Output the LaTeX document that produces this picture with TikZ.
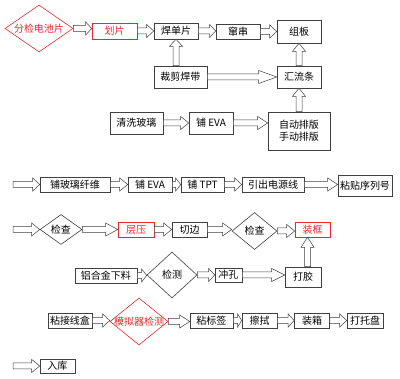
\documentclass[tikz,border=0pt]{standalone}
\usepackage{fontspec}
\setmainfont{Noto Sans CJK SC}
\usepackage{xcolor}
\definecolor{hongse}{HTML}{E8282B}
\definecolor{xian}{HTML}{404040}
\usetikzlibrary{calc,shapes.geometric}
\tikzstyle{kuang} = [rectangle, draw=xian, line width=0.6pt, inner sep=0pt, minimum height=15pt, align=center]
\tikzstyle{hongkuang} = [kuang, draw=hongse, text=hongse]
\tikzstyle{lingxing} = [diamond, draw=xian, line width=0.6pt, inner sep=0pt]
\tikzstyle{honglingxing} = [lingxing, draw=hongse]
\tikzstyle{jiantou} = [draw=xian, line width=0.5pt, fill=white, line join=miter]

% block arrows: horizontal (left to right) and vertical (bottom to top)
\newcommand{\harr}[3][6pt]{%
  \draw[jiantou] let \p1=(#2), \p2=(#3) in
    (\x1,\y1+3pt) -- (\x2-#1,\y1+3pt) -- (\x2-#1,\y1+6.5pt) -- (\x2,\y1)
    -- (\x2-#1,\y1-6.5pt) -- (\x2-#1,\y1-3pt) -- (\x1,\y1-3pt) -- cycle;}
\newcommand{\varr}[3][8pt]{%
  \draw[jiantou] let \p1=(#2), \p2=(#3) in
    (\x1-3pt,\y1) -- (\x1-3pt,\y2-#1) -- (\x1-6.5pt,\y2-#1) -- (\x1,\y2)
    -- (\x1+6.5pt,\y2-#1) -- (\x1+3pt,\y2-#1) -- (\x1+3pt,\y1) -- cycle;}

\begin{document}
\begin{tikzpicture}[x=1pt, y=-1pt]
\useasboundingbox (0,0) rectangle (400,379);

% first line
\node (fenjian) [honglingxing, minimum width=68pt, minimum height=47pt, label=center:{\color{hongse}分检电池片}] at (39,28.5) {};
\node (huapian) [hongkuang, minimum width=45pt, minimum height=16pt] at (114.5,31) {划片};
\node (handan) [kuang, minimum width=44pt, minimum height=16pt] at (176,31) {焊单片};
\node (chuan) [kuang, minimum width=44pt] at (238,31.5) {窜串};
\node (zuban) [kuang, minimum width=44pt, minimum height=23pt] at (299,31.5) {组板};

\node (caijian) [kuang, minimum width=53pt, minimum height=22pt] at (180.5,77) {裁剪焊带};
\node (huiliu) [kuang, minimum width=44pt, minimum height=22pt] at (299,77) {汇流条};

\node (qingxi) [kuang, minimum width=53pt, minimum height=22pt] at (136.5,123) {清洗玻璃};
\node (puEVAa) [kuang, minimum width=44pt, minimum height=22pt] at (211,123) {铺 EVA};
\node (paiban) [kuang, minimum width=62pt, minimum height=38pt] at (299,131) {自动排版\\手动排版};

\harr{fenjian.east}{huapian.west}
\harr[7pt]{huapian.east}{handan.west}
\harr{handan.east}{chuan.west}
\harr[7pt]{chuan.east}{zuban.west}
\harr[18pt]{caijian.east}{huiliu.west}
\harr[8pt]{qingxi.east}{puEVAa.west}
\harr[10pt]{puEVAa.east}{paiban.west}
\varr[7pt]{caijian.north -| handan}{handan.south}
\varr[8pt]{huiliu.north}{zuban.south}
\varr[8pt]{paiban.north}{huiliu.south}

% second line
\coordinate (s4) at (13,184.5);
\node (boli) [kuang, minimum width=70pt] at (75,184.5) {铺玻璃纤维};
\node (puEVAb) [kuang, minimum width=44pt] at (150,184.5) {铺 EVA};
\node (puTPT) [kuang, minimum width=43pt] at (202.5,184.5) {铺 TPT};
\node (yinchu) [kuang, minimum width=62pt] at (273,184.5) {引出电源线};
\node (xulie) [kuang, minimum width=54pt, minimum height=21pt] at (365,185.5) {粘贴序列号};

\harr[7pt]{s4}{boli.west}
\harr[8pt]{boli.east}{puEVAb.west}
\harr[5pt]{puEVAb.east}{puTPT.west}
\harr[7pt]{puTPT.east}{yinchu.west}
\harr[10pt]{yinchu.east}{xulie.west}

% third line
\coordinate (s5) at (13,229.5);
\node (jianchaa) [lingxing, minimum width=42pt, minimum height=30pt, label=center:检查] at (61,229.5) {};
\node (cengya) [hongkuang, minimum width=36pt] at (136,229.5) {层压};
\node (qiebian) [kuang, minimum width=35pt] at (189.5,229.5) {切边};
\node (jianchab) [lingxing, minimum width=45pt, minimum height=37pt, label=center:检查] at (254.5,231) {};
\node (zhuangkuang) [hongkuang, minimum width=35pt] at (312.5,229.5) {装框};

\harr[8pt]{s5}{jianchaa.west}
\harr[12pt]{jianchaa.east}{cengya.west}
\harr[8pt]{cengya.east}{qiebian.west}
\harr[9pt]{qiebian.east}{jianchab.west}
\harr[8pt]{jianchab.east}{zhuangkuang.west}

\node (lvhejin) [kuang, minimum width=62pt] at (106,275.5) {铝合金下料};
\node (jiance) [lingxing, minimum width=50pt, minimum height=46pt, label=center:检测] at (172,275) {};
\node (chongkong) [kuang, minimum width=27pt, minimum height=14pt] at (228.5,275) {冲孔};
\node (dajiao) [kuang, minimum width=36pt, minimum height=20pt] at (303,277) {打胶};

\harr[5pt]{lvhejin.east}{jiance.west}
\harr{jiance.east}{chongkong.west}
\harr[13pt]{chongkong.east}{dajiao.west}
\varr[10pt]{$(dajiao.north)+(4.5,0)$}{zhuangkuang.south}

% fourth line
\node (xianhe) [kuang, minimum width=44pt] at (70,320.5) {粘接线盒};
\node (moni) [honglingxing, minimum width=58pt, minimum height=47pt, label=center:{\color{hongse}模拟器检测}] at (139,321.5) {};
\node (biaoqian) [kuang, minimum width=43pt] at (211.5,320.5) {粘标签};
\node (cashi) [kuang, minimum width=35pt] at (259.5,320.5) {擦拭};
\node (zhuangxiang) [kuang, minimum width=35pt] at (312,320.5) {装箱};
\node (tuopan) [kuang, minimum width=36pt] at (365,320.5) {打托盘};

\harr[7pt]{xianhe.east}{moni.west}
\harr[10pt]{moni.east}{biaoqian.west}
\harr[4pt]{biaoqian.east}{cashi.west}
\harr{cashi.east}{zhuangxiang.west}
\harr[7pt]{zhuangxiang.east}{tuopan.west}

% last
\coordinate (s8) at (13,366);
\node (ruku) [kuang, minimum width=35pt, minimum height=14pt] at (57.5,366) {入库};
\harr[8pt]{s8}{ruku.west}

\end{tikzpicture}
\end{document}
